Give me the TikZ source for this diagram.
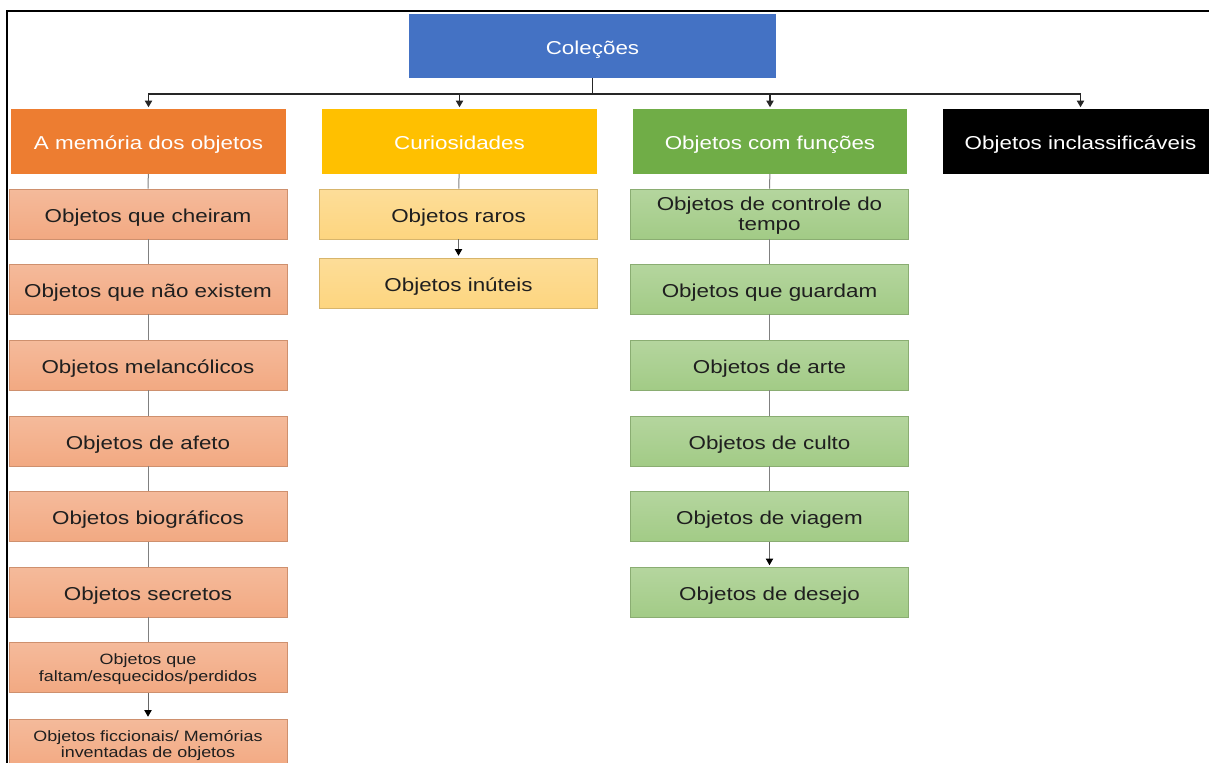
\documentclass[tikz,border=0pt]{standalone}
\usepackage{fontspec}
\setmainfont[FakeStretch=1.2]{Liberation Sans}
\usetikzlibrary{arrows.meta}

\definecolor{colblue}{HTML}{4472C4}
\definecolor{memorange}{HTML}{ED7D31}
\definecolor{curgold}{HTML}{FFC000}
\definecolor{fungreen}{HTML}{70AD47}
\definecolor{suborange}{HTML}{F2A982}
\definecolor{subgold}{HTML}{FDD57F}
\definecolor{subgreen}{HTML}{A2CB86}

\begin{document}
\begin{tikzpicture}[x=0.75pt, y=-0.75pt,
    topbox/.style={fill=#1, minimum width=206pt, minimum height=48pt, inner sep=0pt,
        text=white, font=\fontsize{14}{15}\selectfont, align=center, text height=12.5pt, text depth=0pt},
    subbox/.style={draw=#1!85!black, line width=0.4pt, top color=#1!80!white, bottom color=#1,
        minimum width=208.5pt, minimum height=37.5pt, inner sep=0pt,
        text=black!88, font=\fontsize{14}{15}\selectfont, align=center, text height=12.5pt, text depth=0pt},
    twoline/.style={text height={}},
    small/.style={twoline, font=\fontsize{11.2}{12.2}\selectfont},
    conn/.style={draw=black!50, line width=0.75pt},
    busline/.style={draw=black!85, line width=0.9pt},
    busarrow/.style={busline, -{Triangle[width=5.5pt,length=5pt]}, shorten >=1.5pt},
    lastarrow/.style={draw=black!60, line width=0.75pt, -{Triangle[width=5.5pt,length=5pt,black]}, shorten >=1.5pt}]

    \useasboundingbox (0,0) rectangle (1209,763);
    \clip (0,0) rectangle (1209,763);

    % frame
    \draw[line width=1.9pt] (1220,11) -- (7,11) -- (7,775);

    % top
    \node[topbox=colblue, minimum width=275pt] (col) at (592.5,46) {Coleções};

    % first level
    \node[topbox=memorange] (mem) at (148.5,141.5) {A memória dos objetos};
    \node[topbox=curgold] (cur) at (459.5,141.5) {Curiosidades};
    \node[topbox=fungreen] (fun) at (770,141.5) {Objetos com funções};
    \node[topbox=black] (inc) at (1080.5,141.5) {Objetos inclassificáveis};

    % memoria column
    \node[subbox=suborange] (m1) at (148,214) {Objetos que cheiram};
    \node[subbox=suborange] (m2) at (148,289) {Objetos que não existem};
    \node[subbox=suborange] (m3) at (148,365) {Objetos melancólicos};
    \node[subbox=suborange] (m4) at (148,441) {Objetos de afeto};
    \node[subbox=suborange] (m5) at (148,516.5) {Objetos biográficos};
    \node[subbox=suborange] (m6) at (148,592) {Objetos secretos};
    \node[subbox=suborange, small] (m7) at (148,667.5) {Objetos que\\faltam/esquecidos/perdidos};
    \node[subbox=suborange, small] (m8) at (148,744) {Objetos ficcionais/ Memórias\\inventadas de objetos};

    % curiosidades column
    \node[subbox=subgold] (c1) at (458.5,214) {Objetos raros};
    \node[subbox=subgold] (c2) at (458.5,283) {Objetos inúteis};

    % funcoes column
    \node[subbox=subgreen, twoline] (f1) at (769.5,214) {Objetos de controle do\\tempo};
    \node[subbox=subgreen] (f2) at (769.5,289) {Objetos que guardam};
    \node[subbox=subgreen] (f3) at (769.5,365) {Objetos de arte};
    \node[subbox=subgreen] (f4) at (769.5,441) {Objetos de culto};
    \node[subbox=subgreen] (f5) at (769.5,516.5) {Objetos de viagem};
    \node[subbox=subgreen] (f6) at (769.5,592.5) {Objetos de desejo};

    % bus
    \coordinate (bus) at (592.5,94);
    \draw[busline] (col.south) -- (bus);
    \foreach \n in {mem,cur,fun,inc}
        \draw[busarrow] (bus) -| (\n.north);

    % column links
    \foreach \a/\b in {mem/m1,m1/m2,m2/m3,m3/m4,m4/m5,m5/m6,m6/m7,cur/c1,fun/f1,f1/f2,f2/f3,f3/f4,f4/f5}
        \draw[conn] (\a) -- (\b);
    \foreach \a/\b in {m7/m8,c1/c2,f5/f6}
        \draw[lastarrow] (\a) -- (\b);
\end{tikzpicture}
\end{document}
